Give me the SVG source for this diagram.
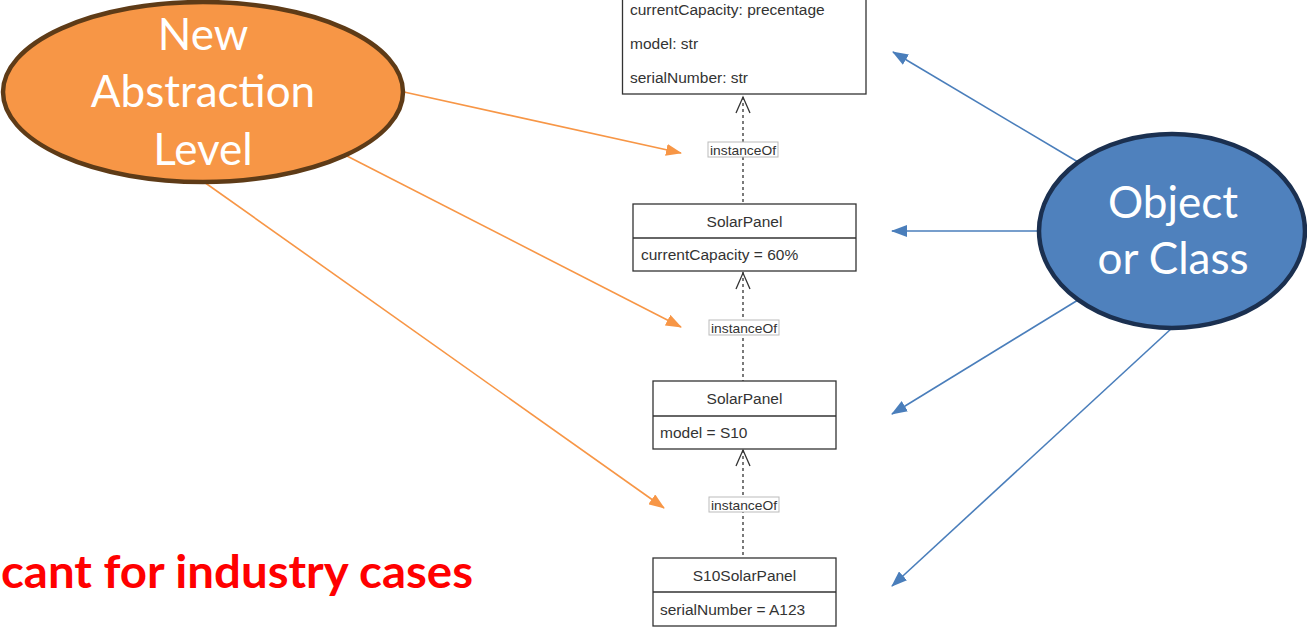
<svg xmlns="http://www.w3.org/2000/svg" width="1307" height="627" viewBox="0 0 1307 627">
<style>
.box{fill:#fff;stroke:#333;stroke-width:1.3}
.t{font-family:"Liberation Sans",Arial,sans-serif;font-size:15.5px;fill:#333}
.lbl{font-family:"Liberation Sans",Arial,sans-serif;font-size:13.5px;fill:#333}
.lblbox{fill:#fff;stroke:#bbb;stroke-width:1}
.dash{stroke:#333;stroke-width:1.3;stroke-dasharray:3 3;fill:none}
.open{stroke:#333;stroke-width:1.3;fill:none}
.big{font-family:Lato,"Open Sans",sans-serif;font-size:44px;fill:#fff;text-anchor:middle}
.or{stroke:#F79646;stroke-width:1.6;fill:none}
.bl{stroke:#4A7EBB;stroke-width:1.6;fill:none}
</style>
<defs>
<marker id="ao" markerUnits="userSpaceOnUse" markerWidth="16" markerHeight="12" refX="15" refY="6" orient="auto"><path d="M0,0 L16,6 L0,12 Z" fill="#F79646"/></marker>
<marker id="ab" markerUnits="userSpaceOnUse" markerWidth="16" markerHeight="12" refX="15" refY="6" orient="auto"><path d="M0,0 L16,6 L0,12 Z" fill="#4A7EBB"/></marker>
</defs>

<g id="connectors">
<line class="dash" x1="743" y1="97" x2="743" y2="204"/>
<polyline class="open" points="736,113 743,97 750,113"/>
<line class="dash" x1="743" y1="272" x2="743" y2="381"/>
<polyline class="open" points="736,289 743,273 750,289"/>
<line class="dash" x1="743" y1="450" x2="743" y2="558"/>
<polyline class="open" points="736,466 743,450 750,466"/>
<rect class="lblbox" x="708" y="142" width="70" height="15"/>
<text class="lbl" x="743" y="154.5" text-anchor="middle" textLength="66" lengthAdjust="spacingAndGlyphs">instanceOf</text>
<rect class="lblbox" x="709" y="320" width="70" height="15"/>
<text class="lbl" x="744" y="332.5" text-anchor="middle" textLength="66" lengthAdjust="spacingAndGlyphs">instanceOf</text>
<rect class="lblbox" x="709" y="497" width="70" height="15"/>
<text class="lbl" x="744" y="509.5" text-anchor="middle" textLength="66" lengthAdjust="spacingAndGlyphs">instanceOf</text>

<line class="or" x1="404" y1="92" x2="681" y2="153" marker-end="url(#ao)"/>
<line class="or" x1="345" y1="155" x2="681" y2="327" marker-end="url(#ao)"/>
<line class="or" x1="204" y1="182" x2="664" y2="508" marker-end="url(#ao)"/>

<line class="bl" x1="1078" y1="162" x2="893" y2="52" marker-end="url(#ab)"/>
<line class="bl" x1="1038" y1="231" x2="892" y2="231" marker-end="url(#ab)"/>
<line class="bl" x1="1078" y1="300" x2="892" y2="414" marker-end="url(#ab)"/>
<line class="bl" x1="1172" y1="328" x2="892" y2="586" marker-end="url(#ab)"/>
</g>

<g id="class-top">
<rect class="box" x="622.5" y="-10" width="243.5" height="104"/>
<text class="t" x="630" y="15">currentCapacity: precentage</text>
<text class="t" x="630" y="49">model: str</text>
<text class="t" x="630" y="83">serialNumber: str</text>
</g>

<g id="obj-solarpanel-1">
<rect class="box" x="633" y="204" width="223" height="67"/>
<line class="box" x1="633" y1="238" x2="856" y2="238"/>
<text class="t" x="744.5" y="227" text-anchor="middle">SolarPanel</text>
<text class="t" x="641" y="260">currentCapacity = 60%</text>
</g>

<g id="obj-solarpanel-2">
<rect class="box" x="653" y="381" width="183" height="68"/>
<line class="box" x1="653" y1="416" x2="836" y2="416"/>
<text class="t" x="744.5" y="404" text-anchor="middle">SolarPanel</text>
<text class="t" x="660" y="438">model = S10</text>
</g>

<g id="obj-s10solarpanel">
<rect class="box" x="653" y="558" width="183" height="68"/>
<line class="box" x1="653" y1="592" x2="836" y2="592"/>
<text class="t" x="744.5" y="581" text-anchor="middle">S10SolarPanel</text>
<text class="t" x="660" y="615">serialNumber = A123</text>
</g>

<g id="new-abstraction-level">
<ellipse cx="203" cy="92" rx="200" ry="90" fill="#F79646" stroke="#5E3B17" stroke-width="4.5"/>
<text class="big" x="203" y="50">New</text>
<text class="big" x="203" y="107">Abstraction</text>
<text class="big" x="203" y="165">Level</text>
</g>

<g id="object-or-class">
<ellipse cx="1172" cy="231" rx="133" ry="97" fill="#4F81BD" stroke="#1B3050" stroke-width="4.5"/>
<text class="big" x="1173" y="218">Object</text>
<text class="big" x="1173" y="274">or Class</text>
</g>

<text x="1" y="588" font-family="Lato,'Open Sans',sans-serif" font-weight="bold" font-size="46" fill="#FF0000" textLength="472" lengthAdjust="spacingAndGlyphs">cant for industry cases</text>
</svg>
